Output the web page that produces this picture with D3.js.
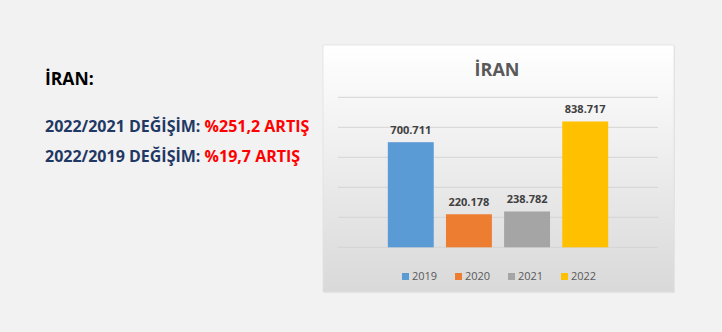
<!DOCTYPE html>
<html>
<head>
<meta charset="utf-8">
<script src="https://cdn.jsdelivr.net/npm/d3@7"></script>
<style>
    body { margin: 0; background: #f2f2f2; }
    svg { display: block; }
</style>
</head>
<body>
<div id="chart"></div>
<script>
// values
var years = ["2019", "2020", "2021", "2022"];
var visitors = [700711, 220178, 238782, 838717];
var barColors = ["#5b9bd5", "#ed7d31", "#a5a5a5", "#ffc000"];
var yTicks = [0, 200000, 400000, 600000, 800000, 1000000];
var notes = [
    { label: "2022/2021 DEĞİŞİM: ", value: "%251,2 ARTIŞ" },
    { label: "2022/2019 DEĞİŞİM: ", value: "%19,7 ARTIŞ" }
];

var width = 722, height = 332;
var svg = d3.select("#chart").append("svg")
    .attr("width", width)
    .attr("height", height)
    .style("font-family", "'Open Sans', sans-serif");

// left side text
svg.append("text")
    .attr("x", 45).attr("y", 85)
    .attr("font-size", 17.5).attr("font-weight", "bold")
    .attr("fill", "#000")
    .text("İRAN:");

svg.selectAll(".note")
    .data(notes)
    .enter().append("text")
    .attr("class", "note")
    .attr("x", 45)
    .attr("y", function (d, i) { return 131.5 + i * 30; })
    .attr("font-size", 16).attr("font-weight", "bold")
    .each(function (d) {
        var t = d3.select(this);
        t.append("tspan").attr("fill", "#1f3864").text(d.label);
        t.append("tspan").attr("fill", "#ff0000").text(d.value);
    });

// chart box
var box = { x: 323, y: 45, w: 351, h: 247 };
var defs = svg.append("defs");
var grad = defs.append("linearGradient")
    .attr("id", "bg").attr("x1", 0).attr("y1", 0).attr("x2", 0).attr("y2", 1);
grad.append("stop").attr("offset", "0%").attr("stop-color", "#ffffff");
grad.append("stop").attr("offset", "100%").attr("stop-color", "#d9d9d9");

svg.append("rect")
    .attr("x", box.x + 1).attr("y", box.y + 1)
    .attr("width", box.w).attr("height", box.h)
    .attr("fill", "#e4e4e4");
svg.append("rect")
    .attr("x", box.x).attr("y", box.y)
    .attr("width", box.w).attr("height", box.h)
    .attr("fill", "url(#bg)")
    .attr("stroke", "#e0e0e0").attr("stroke-width", 0.8);

svg.append("text")
    .attr("x", 497).attr("y", 76)
    .attr("text-anchor", "middle")
    .attr("font-size", 18).attr("font-weight", "bold")
    .attr("fill", "#595959")
    .text("İRAN");

var y = d3.scaleLinear().domain([0, 1000000]).range([247.3, 97.3]);
var x = d3.scaleBand().domain(years).range([382, 614]).paddingInner(0.21).paddingOuter(0.1);

svg.append("g").selectAll("line")
    .data(yTicks)
    .enter().append("line")
    .attr("x1", 338).attr("x2", 658)
    .attr("y1", function (d) { return y(d); })
    .attr("y2", function (d) { return y(d); })
    .attr("stroke", "#d4d4d4").attr("stroke-width", 1);

var bars = years.map(function (yr, i) { return { year: yr, value: visitors[i], color: barColors[i] }; });

svg.append("g").selectAll("rect")
    .data(bars)
    .enter().append("rect")
    .attr("x", function (d) { return x(d.year); })
    .attr("y", function (d) { return y(d.value); })
    .attr("width", x.bandwidth())
    .attr("height", function (d) { return y(0) - y(d.value); })
    .attr("fill", function (d) { return d.color; });

svg.append("g").selectAll("text")
    .data(bars)
    .enter().append("text")
    .attr("x", function (d) { return x(d.year) + x.bandwidth() / 2; })
    .attr("y", function (d) { return y(d.value) - 8.5; })
    .attr("text-anchor", "middle")
    .attr("font-size", 11).attr("font-weight", "bold")
    .attr("fill", "#404040")
    .text(function (d) { return d3.format(",")(d.value).replace(/,/g, "."); });

// legend
var legend = svg.append("g").selectAll("g")
    .data(bars)
    .enter().append("g")
    .attr("transform", function (d, i) { return "translate(" + (402 + i * 53) + ",273)"; });
legend.append("rect")
    .attr("width", 7).attr("height", 7)
    .attr("fill", function (d) { return d.color; });
legend.append("text")
    .attr("x", 10).attr("y", 7)
    .attr("font-size", 11)
    .attr("fill", "#595959")
    .text(function (d) { return d.year; });
</script>
</body>
</html>
